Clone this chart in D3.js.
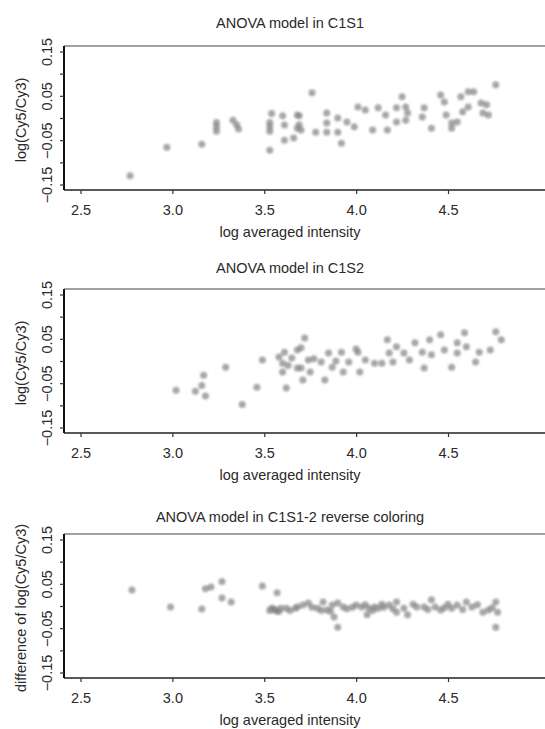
<!DOCTYPE html>
<html><head><meta charset="utf-8">
<script src="https://cdn.jsdelivr.net/npm/d3@7"></script>
<style>body{margin:0;background:#fff}svg{display:block}text{font-family:"Liberation Sans",Arial,sans-serif;fill:#2a2a2a}</style>
</head><body>
<script>
const titles = ["ANOVA model in C1S1", "ANOVA model in C1S2", "ANOVA model in C1S1-2 reverse coloring"];
const yLabels = ["log(Cy5/Cy3)", "log(Cy5/Cy3)", "difference of log(Cy5/Cy3)"];
const xLabel = "log averaged intensity";
const xTicks = [2.5, 3.0, 3.5, 4.0, 4.5];
const yTicks = [-0.15, -0.10, -0.05, 0.00, 0.05, 0.10, 0.15];
const yTickLabels = ["\u22120.15", "", "\u22120.05", "", "0.05", "", "0.15"];

const p1x = [2.77,2.97,3.16,3.24,3.24,3.24,3.33,3.35,3.36,3.53,3.53,3.53,3.53,3.54,3.60,3.61,3.61,3.66,3.68,3.68,3.69,3.69,3.70,3.76,3.78,3.84,3.84,3.84,3.90,3.90,3.92,3.95,3.99,4.01,4.05,4.09,4.12,4.16,4.17,4.22,4.22,4.25,4.27,4.28,4.27,4.37,4.36,4.41,4.46,4.48,4.49,4.52,4.52,4.55,4.57,4.58,4.61,4.61,4.64,4.68,4.71,4.69,4.72,4.76];
const p1y = [-0.130,-0.066,-0.059,-0.010,-0.020,-0.030,-0.005,-0.015,-0.025,-0.010,-0.020,-0.030,-0.073,0.010,0.005,-0.016,-0.050,-0.045,0.007,-0.023,0.005,-0.015,-0.027,0.057,-0.032,0.011,-0.011,-0.032,0.000,-0.032,-0.057,-0.009,-0.020,0.025,0.018,-0.027,0.023,0.007,-0.027,0.023,-0.009,0.048,0.025,0.011,-0.005,0.023,0.002,-0.023,0.052,0.036,0.007,-0.011,-0.023,-0.009,0.048,0.014,0.059,0.025,0.059,0.034,0.030,0.011,0.007,0.075];

const p2x = [3.02,3.125,3.16,3.17,3.18,3.29,3.38,3.46,3.49,3.58,3.61,3.60,3.60,3.62,3.68,3.68,3.65,3.70,3.71,3.72,3.70,3.74,3.75,3.81,3.83,3.85,3.87,3.92,3.93,3.96,4.01,4.00,4.02,4.05,4.10,4.14,4.17,4.18,4.20,4.22,4.26,4.29,4.32,4.36,4.37,4.40,4.41,4.46,4.48,4.52,4.55,4.55,4.59,4.60,4.65,4.67,4.73,4.76,4.79,3.63,3.77,3.89];
const p2y = [-0.066,-0.068,-0.055,-0.032,-0.079,-0.014,-0.098,-0.059,0.002,0.009,0.020,-0.005,-0.025,-0.061,0.025,-0.016,0.007,-0.016,-0.043,0.052,0.030,0.002,-0.025,-0.002,-0.043,0.018,-0.014,0.020,-0.025,-0.002,0.020,0.027,-0.025,0.002,-0.005,-0.005,0.048,0.018,-0.002,0.032,0.018,0.002,0.041,0.020,-0.016,0.048,0.014,0.059,0.025,-0.014,0.041,0.018,0.064,0.032,-0.002,0.020,0.025,0.066,0.048,-0.010,0.005,0.000];

const p3x = [2.78,2.99,3.16,3.18,3.21,3.27,3.27,3.32,3.49,3.57,3.55,3.56,3.57,3.59,3.62,3.68,3.67,3.71,3.74,3.79,3.82,3.84,3.87,3.88,3.90,3.90,3.98,4.00,4.03,4.07,4.06,4.12,4.15,4.18,4.22,4.22,4.26,4.28,4.33,4.37,4.41,4.43,4.46,4.52,4.55,4.60,4.63,4.69,4.72,4.76,4.77,4.76,3.64,3.95,4.10,4.48,3.53,3.54,3.58,3.76,3.81,3.86,3.93,4.05,4.09,4.14,4.20,4.31,4.39,4.50,4.58,4.66,4.74];
const p3y = [0.036,-0.002,-0.007,0.039,0.043,0.055,0.018,0.009,0.045,0.030,-0.007,-0.009,-0.012,-0.005,-0.005,-0.002,-0.005,0.002,0.007,-0.005,0.009,-0.009,0.002,-0.025,0.007,-0.048,-0.003,0.002,-0.002,-0.005,-0.020,-0.005,-0.003,0.002,0.009,-0.014,-0.005,-0.020,-0.002,-0.002,0.014,-0.002,-0.009,-0.005,0.002,0.009,-0.002,-0.014,-0.009,0.009,-0.014,-0.048,-0.010,-0.006,-0.002,-0.004,-0.010,-0.005,-0.012,-0.003,-0.010,-0.012,-0.002,0.003,-0.010,0.004,-0.006,0.004,-0.008,0.004,-0.008,0.003,-0.004];

const panels = [
  {x: p1x, y: p1y, top: 46, titleY: 28},
  {x: p2x, y: p2y, top: 289, titleY: 273},
  {x: p3x, y: p3y, top: 534, titleY: 522}
];

const W = 545, H = 729;
const svg = d3.select("body").append("svg").attr("width", W).attr("height", H);
const defs = svg.append("defs");
defs.append("filter").attr("id", "soft").attr("x", "-10%").attr("y", "-10%").attr("width", "120%").attr("height", "120%")
  .append("feGaussianBlur").attr("stdDeviation", 0.9);

const left = 64, plotH = 144, fs = 14.5;
const x = d3.scaleLinear().domain([2.5, 4.5]).range([80.5, 448]);

panels.forEach((p, i) => {
  const top = p.top, bottom = top + plotH;
  const y = d3.scaleLinear().domain([-0.15, 0.15]).range([bottom - 5.5, top + 5.5]);
  const g = svg.append("g");

  g.append("text").attr("x", 290).attr("y", p.titleY).attr("text-anchor", "middle")
    .attr("font-size", fs).text(titles[i]);

  g.append("line").attr("x1", left).attr("x2", W + 10).attr("y1", top).attr("y2", top)
    .attr("stroke", "#444").attr("stroke-width", 1.2);
  g.append("line").attr("x1", left).attr("x2", W + 10).attr("y1", bottom).attr("y2", bottom)
    .attr("stroke", "#222").attr("stroke-width", 1.6);
  g.append("line").attr("x1", left).attr("x2", left).attr("y1", top).attr("y2", bottom)
    .attr("stroke", "#111").attr("stroke-width", 2);

  const xa = d3.axisBottom(x).tickValues(xTicks).tickSize(4).tickPadding(0).tickFormat(d3.format(".1f"));
  const gx = g.append("g").attr("transform", `translate(0,${bottom})`).call(xa);
  gx.select(".domain").remove();
  gx.selectAll("line").attr("stroke", "#333").attr("stroke-width", 1.2);
  gx.selectAll("text").attr("font-size", fs).attr("fill", "#2a2a2a").attr("y", 25).attr("dy", 0);

  const ya = d3.axisLeft(y).tickValues(yTicks).tickSize(4).tickFormat((d, k) => yTickLabels[k]);
  const gy = g.append("g").attr("transform", `translate(${left},0)`).call(ya);
  gy.select(".domain").remove();
  gy.selectAll("line").attr("stroke", "#333").attr("stroke-width", 1.2);
  gy.selectAll("text").attr("font-size", fs).attr("fill", "#2a2a2a")
    .attr("text-anchor", "middle").attr("x", 0).attr("dy", 0)
    .attr("transform", "translate(-12,0) rotate(-90)");

  g.append("text").attr("x", 290).attr("y", bottom + 47).attr("text-anchor", "middle")
    .attr("font-size", fs).text(xLabel);
  g.append("text").attr("transform", `translate(26,${top + plotH / 2 + 2}) rotate(-90)`)
    .attr("text-anchor", "middle").attr("font-size", fs).text(yLabels[i]);

  g.append("g").attr("filter", "url(#soft)").selectAll("circle")
    .data(p.x.map((v, k) => [v, p.y[k]])).join("circle")
    .attr("cx", d => x(d[0])).attr("cy", d => y(d[1])).attr("r", 3.5)
    .attr("fill", "#858585").attr("fill-opacity", 0.72);
});
</script>
</body></html>
